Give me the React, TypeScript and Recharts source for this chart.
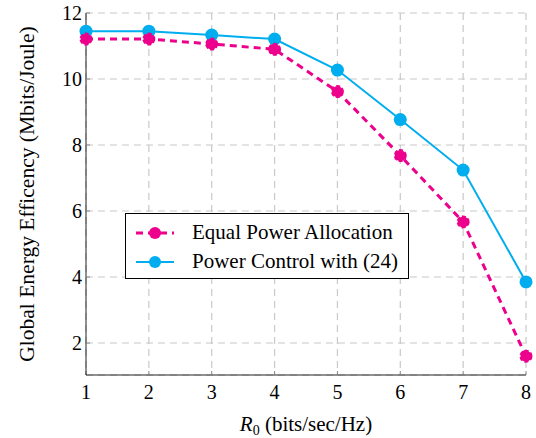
import { LineChart, Line, XAxis, YAxis, CartesianGrid, Legend } from 'recharts';

const rates = [1, 2, 3, 4, 5, 6, 7, 8];
const equalPower = [11.21, 11.21, 11.06, 10.9, 9.62, 7.68, 5.67, 1.6];
const powerControl = [11.45, 11.45, 11.33, 11.21, 10.27, 8.77, 7.24, 3.85];
const yTicks = [2, 4, 6, 8, 10, 12];

const PINK = '#ec008c';
const BLUE = '#00aeef';
const FONT = '"Liberation Serif", "Times New Roman", serif';

const data = rates.map((r, i) => ({ r, equal: equalPower[i], control: powerControl[i] }));

const noTick = () => <g />;

// tick labels drawn by hand so the serif font sticks
const XTick = ({ x, y, payload }: any) => (
  <text x={x} y={y} dy={15} textAnchor="middle" style={{ fontFamily: FONT, fontSize: 20 }} fill="#000">
    {payload.value}
  </text>
);
const YTick = ({ x, y, payload }: any) => (
  <text x={x} y={y} dy={7} textAnchor="end" style={{ fontFamily: FONT, fontSize: 20 }} fill="#000">
    {payload.value}
  </text>
);

function LegendBox() {
  const row = (label: string, color: string, dashed: boolean) => (
    <div style={{ display: 'flex', alignItems: 'center', height: 29 }}>
      <svg width={56} height={20}>
        <line x1={8} y1={10} x2={46} y2={10} stroke={color} strokeWidth={dashed ? 3 : 2}
          strokeDasharray={dashed ? '7 5' : undefined} />
        <circle cx={27} cy={10} r={6} fill={color} />
      </svg>
      <span style={{ marginLeft: 8 }}>{label}</span>
    </div>
  );
  return (
    <div style={{
      border: '1px solid #000', background: '#fff', width: 284, height: 66, boxSizing: 'border-box',
      padding: '4px 0 0 2px', fontFamily: FONT, fontSize: 21, color: '#000', lineHeight: 1,
    }}>
      {row('Equal Power Allocation', PINK, true)}
      {row('Power Control with (24)', BLUE, false)}
    </div>
  );
}

export default function App() {
  return (
    <div style={{ position: 'absolute', left: 0, top: 0, background: '#fff' }}>
      <LineChart width={536} height={438} data={data} margin={{ top: 13, right: 10, left: 0, bottom: 0 }}>
        <CartesianGrid stroke="#c8c8c8" strokeDasharray="7 5" strokeWidth={1.2} />
        <XAxis dataKey="r" type="number" domain={[1, 8]} ticks={rates} height={63}
          stroke="#222" tickSize={-4} tickMargin={13}
          tickLine={{ stroke: '#888' }}
          tick={<XTick />}
          label={({ viewBox }: any) => (
            <text x={viewBox.x + viewBox.width / 2} y={viewBox.y + 56} textAnchor="middle"
              style={{ fontFamily: FONT, fontSize: 21 }} fill="#000">
              <tspan fontStyle="italic">R</tspan>
              <tspan style={{ fontSize: 14 }} dy={4}>0</tspan>
              <tspan dy={-4}> (bits/sec/Hz)</tspan>
            </text>
          )}
        />
        <XAxis xAxisId="top" orientation="top" dataKey="r" type="number" domain={[1, 8]} ticks={rates}
          height={0} stroke="#222" tickSize={-4} tickLine={{ stroke: '#888' }} tick={noTick} />
        <YAxis type="number" domain={[1.03, 12]} ticks={yTicks} width={86} allowDataOverflow
          stroke="#222" tickSize={-4} tickMargin={8} tickLine={{ stroke: '#888' }}
          tick={<YTick />}
          label={({ viewBox }: any) => (
            <text x={viewBox.x + 27} y={viewBox.y + viewBox.height / 2} textAnchor="middle"
              dominantBaseline="central" transform={`rotate(-90 ${viewBox.x + 27} ${viewBox.y + viewBox.height / 2})`}
              style={{ fontFamily: FONT, fontSize: 21.5 }} fill="#000">
              Global Energy Efficency (Mbits/Joule)
            </text>
          )}
        />
        <YAxis yAxisId="right" orientation="right" type="number" domain={[1.03, 12]} ticks={yTicks}
          width={0} stroke="#222" tickSize={-4} tickLine={{ stroke: '#888' }} tick={noTick} />
        <Line dataKey="control" stroke={BLUE} strokeWidth={2} isAnimationActive={false}
          dot={{ r: 6.5, fill: BLUE, stroke: BLUE, strokeWidth: 0 }} />
        <Line dataKey="equal" stroke={PINK} strokeWidth={3} strokeDasharray="7 5" isAnimationActive={false}
          dot={{ r: 5.5, fill: PINK, stroke: PINK, strokeWidth: 2, strokeDasharray: '4 2' }} />
        <Legend layout="horizontal" verticalAlign="middle" align="center" content={() => <LegendBox />}
          wrapperStyle={{ left: 125, top: 213, width: 284, height: 66 }} />
      </LineChart>
    </div>
  );
}
